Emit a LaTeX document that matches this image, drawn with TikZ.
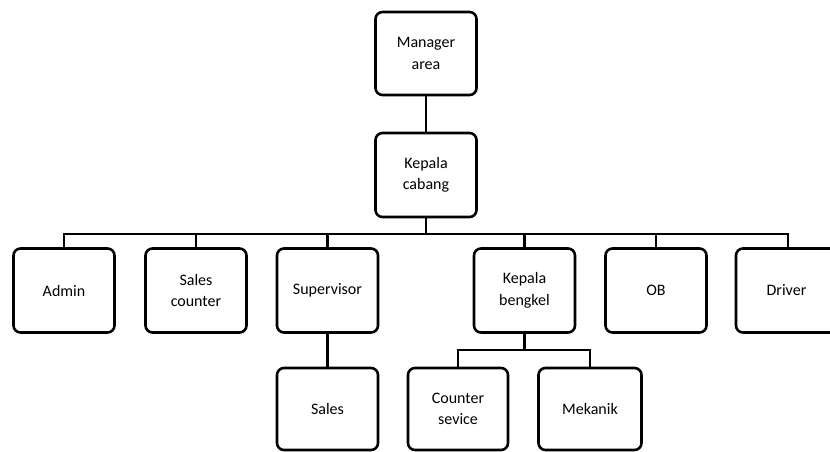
\documentclass[tikz,border=0pt]{standalone}
\usepackage{fontspec}
\setmainfont{Carlito}
\begin{document}
\begin{tikzpicture}[x=1pt,y=-1pt,
  box/.style={draw=black, line width=2.6pt, rounded corners=7pt, fill=white,
    minimum width=101pt, minimum height=84pt, align=center, inner sep=0pt,
    font=\fontsize{16}{21.5}\selectfont},
  link/.style={draw=black, line width=2.4pt}]
\useasboundingbox (0,0) rectangle (830,451);
\node[box, minimum height=83pt] (mgr) at (426,53.5) {Manager\\area};
\node[box] (kc) at (426,175) {Kepala\\cabang};
\node[box] (admin) at (64,290.5) {Admin};
\node[box] (sc) at (196,290.5) {Sales\\counter};
\node[box] (sup) at (327.5,290.5) {Supervisor};
\node[box] (kb) at (524.5,290.5) {Kepala\\bengkel};
\node[box] (ob) at (656,290.5) {OB};
\node[box] (drv) at (786.5,290.5) {Driver};
\node[box, minimum height=82pt] (sales) at (327.5,409) {Sales};
\node[box, minimum height=82pt, minimum width=100pt] (cs) at (458,409) {Counter\\sevice};
\node[box, minimum height=82pt, minimum width=103pt] (mek) at (590,409) {Mekanik};
\coordinate (bus) at (426,234);
\coordinate (sub) at (524.5,350);
\draw[link] (mgr) -- (kc);
\draw[link] (kc.south) -- (bus);
\draw[link] (admin.north) |- (bus);
\draw[link] (sc.north) |- (bus);
\draw[link] (sup.north) |- (bus);
\draw[link] (kb.north) |- (bus);
\draw[link] (ob.north) |- (bus);
\draw[link] ([xshift=1.5pt]drv.north) |- (bus);
\draw[link] (sup) -- (sales);
\draw[link] (kb.south) -- (sub);
\draw[link] (cs.north) |- (sub);
\draw[link] (mek.north) |- (sub);
\end{tikzpicture}
\end{document}
